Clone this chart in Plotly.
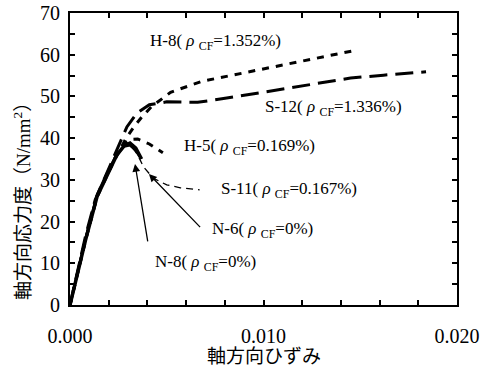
import plotly.graph_objects as go

# ---- data (strain, stress N/mm2) ----
n8_x = [0, 0.0004, 0.0008, 0.0014, 0.0019, 0.0024, 0.0028, 0.0031, 0.0034, 0.0037]
n8_y = [0, 7.8, 15.5, 26.0, 31.0, 35.8, 38.2, 38.8, 37.6, 35.0]

n6_x = [0, 0.0004, 0.0008, 0.0014, 0.0019, 0.0024, 0.0028, 0.0031, 0.0034, 0.0036]
n6_y = [0, 8.2, 16.0, 26.5, 31.5, 36.0, 38.0, 38.3, 37.0, 35.5]

h8_x = [0, 0.0004, 0.0008, 0.0014, 0.0020, 0.0025, 0.0029, 0.0033, 0.0037, 0.0042,
        0.0052, 0.0068, 0.0084, 0.0102, 0.0119, 0.0136, 0.0148]
h8_y = [0, 7.8, 15.5, 26.0, 32.0, 36.5, 40.0, 42.7, 45.0, 47.5,
        51.0, 53.6, 55.1, 56.8, 58.3, 59.9, 61.1]

s12_x = [0, 0.0004, 0.0008, 0.0013, 0.0017, 0.00217, 0.00258, 0.00294, 0.00346, 0.0041,
         0.0050, 0.0066, 0.0081, 0.0097, 0.0112, 0.0128, 0.0145, 0.0162, 0.0184]
s12_y = [0, 8.0, 16.5, 25.2, 29.5, 34.3, 39.0, 42.7, 46.0, 48.0,
         48.7, 48.6, 49.6, 50.8, 52.0, 53.2, 54.4, 55.1, 55.9]

h5_x = [0, 0.0004, 0.0008, 0.0014, 0.0019, 0.0024, 0.0028, 0.0031, 0.0035, 0.0041, 0.0048]
h5_y = [0, 7.8, 15.5, 26.0, 31.2, 36.0, 38.6, 39.7, 39.8, 38.6, 36.5]

s11_x = [0, 0.0004, 0.0008, 0.0014, 0.0019, 0.0024, 0.0028, 0.0031, 0.0035, 0.0038,
         0.0043, 0.0050, 0.0057, 0.0067]
s11_y = [0, 7.9, 15.6, 26.1, 31.1, 35.9, 38.1, 38.6, 36.0, 33.1,
         30.4, 28.8, 28.1, 27.6]

# ---- labels ----
label_texts = ["H-8( <i>ρ</i> <sub>CF</sub>=1.352%)", "S-12( <i>ρ</i> <sub>CF</sub>=1.336%)",
               "H-5( <i>ρ</i> <sub>CF</sub>=0.169%)", "S-11( <i>ρ</i> <sub>CF</sub>=0.167%)",
               "N-6( <i>ρ</i> <sub>CF</sub>=0%)", "N-8( <i>ρ</i> <sub>CF</sub>=0%)"]
label_x = [0.00403, 0.00997, 0.00579, 0.00770, 0.00724, 0.00429]
label_y = [63.1, 47.2, 37.9, 27.6, 18.0, 10.1]

# arrows: tip (x, y) and tail (ax, ay)
arrow_x = [0.00408, 0.00336]
arrow_y = [31.4, 33.8]
arrow_ax = [0.0068, 0.00403]
arrow_ay = [18.3, 14.9]

x_ticks = [i * 0.002 for i in range(11)]
x_ticktext = ["0.000", "", "", "", "", "0.010", "", "", "", "", "0.020"]
y_ticks = [i * 5 for i in range(15)]
y_ticktext = [str(v) if v % 10 == 0 else "" for v in y_ticks]

SERIF = "Liberation Serif, Times New Roman, Noto Sans CJK JP, serif"

fig = go.Figure()
fig.add_trace(go.Scatter(x=s11_x, y=s11_y, mode="lines",
                         line=dict(color="black", width=1.3, dash="7px,5px"), name="S-11"))
fig.add_trace(go.Scatter(x=h5_x, y=h5_y, mode="lines",
                         line=dict(color="black", width=3, dash="7px,7px"), name="H-5"))
fig.add_trace(go.Scatter(x=h8_x, y=h8_y, mode="lines",
                         line=dict(color="black", width=3, dash="7px,7px"), name="H-8"))
fig.add_trace(go.Scatter(x=s12_x, y=s12_y, mode="lines",
                         line=dict(color="black", width=3, dash="18px,8px"), name="S-12"))
fig.add_trace(go.Scatter(x=n6_x, y=n6_y, mode="lines",
                         line=dict(color="black", width=2.5), name="N-6"))
fig.add_trace(go.Scatter(x=n8_x, y=n8_y, mode="lines",
                         line=dict(color="black", width=3.5), name="N-8"))

annotations = []
for t, lx, ly in zip(label_texts, label_x, label_y):
    annotations.append(dict(x=lx, y=ly, xref="x", yref="y", text=t, showarrow=False,
                            xanchor="left", yanchor="middle",
                            font=dict(family=SERIF, size=17, color="black")))
for tx, ty, ax, ay in zip(arrow_x, arrow_y, arrow_ax, arrow_ay):
    annotations.append(dict(x=tx, y=ty, xref="x", yref="y", ax=ax, ay=ay,
                            axref="x", ayref="y", text="", showarrow=True,
                            arrowhead=2, arrowsize=1.2, arrowwidth=1.3, arrowcolor="black"))
annotations.append(dict(x=-0.124, y=0.37, xref="paper", yref="paper",
                        text="軸方向応力度（N/mm<sup>2</sup>）", textangle=-90, showarrow=False,
                        xanchor="center", yanchor="middle",
                        font=dict(family=SERIF, size=19, color="black")))
annotations.append(dict(x=0.5, y=-0.178, xref="paper", yref="paper",
                        text="軸方向ひずみ", showarrow=False,
                        xanchor="center", yanchor="middle",
                        font=dict(family=SERIF, size=19, color="black")))

fig.update_layout(
    width=487, height=370,
    margin=dict(l=70, r=30, t=13, b=65, autoexpand=False),
    paper_bgcolor="white", plot_bgcolor="white",
    showlegend=False,
    annotations=annotations,
    font=dict(family=SERIF, color="black"),
)
fig.update_xaxes(range=[0, 0.02], tickvals=x_ticks, ticktext=x_ticktext,
                 ticks="inside", ticklen=5, tickwidth=1.5, tickcolor="black",
                 showline=True, linewidth=2, linecolor="black", mirror="ticks",
                 showgrid=False, zeroline=False, ticklabelstandoff=12, automargin=False,
                 tickfont=dict(family=SERIF, size=20, color="black"))
fig.update_yaxes(range=[0, 70], tickvals=y_ticks, ticktext=y_ticktext,
                 ticks="inside", ticklen=5, tickwidth=1.5, tickcolor="black",
                 showline=True, linewidth=2, linecolor="black", mirror="ticks",
                 showgrid=False, zeroline=False, ticklabelstandoff=4, automargin=False,
                 tickfont=dict(family=SERIF, size=20, color="black"))

fig.write_html("out.html", config={"displayModeBar": False},
               post_script="document.body.style.margin='0';document.body.style.overflow='hidden';")
